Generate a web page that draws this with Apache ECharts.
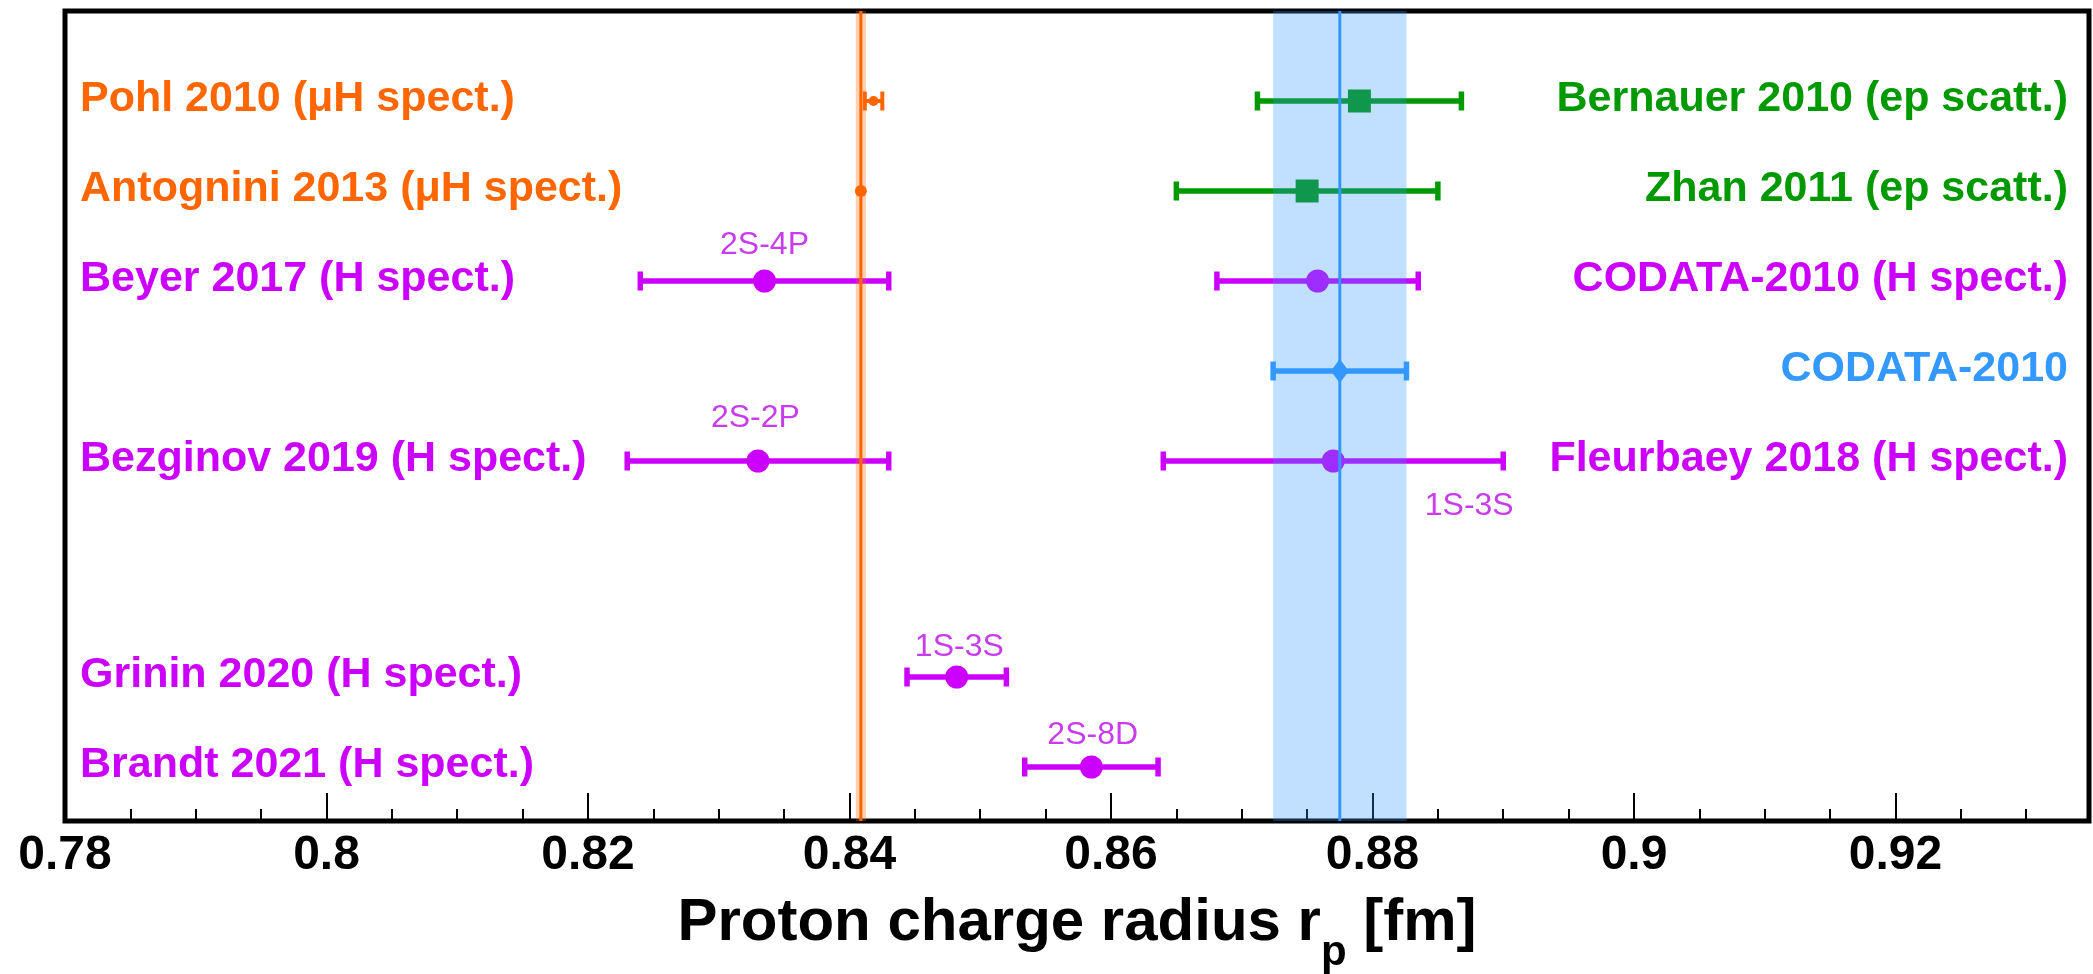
<!DOCTYPE html>
<html>
<head>
<meta charset="utf-8">
<script src="https://cdn.jsdelivr.net/npm/echarts@6/dist/echarts.min.js"></script>
<style>
html, body { margin: 0; padding: 0; background: #fff; }
#chart { width: 2093px; height: 974px; }
</style>
</head>
<body>
<div id="chart"></div>
<script>
// proton charge radius measurements [fm]
const labels = ['Pohl 2010 (μH spect.)', 'Antognini 2013 (μH spect.)', 'Beyer 2017 (H spect.)', 'Bezginov 2019 (H spect.)',
  'Grinin 2020 (H spect.)', 'Brandt 2021 (H spect.)', 'Bernauer 2010 (ep scatt.)', 'Zhan 2011 (ep scatt.)',
  'CODATA-2010 (H spect.)', 'CODATA-2010', 'Fleurbaey 2018 (H spect.)']
const radius = [0.84184, 0.84087, 0.8335, 0.8330, 0.8482, 0.8585, 0.8790, 0.8750, 0.8758, 0.8775, 0.8770]
const errors = [0.00067, 0.00039, 0.0095, 0.0100, 0.0038, 0.0051, 0.0078, 0.0100, 0.0077, 0.0051, 0.0130]
const rows = [1, 2, 3, 5, 7.4, 8.4, 1, 2, 3, 4, 5]
const sides = ['left', 'left', 'left', 'left', 'left', 'left', 'right', 'right', 'right', 'right', 'right']
const kinds = ['muH', 'muH', 'H', 'H', 'H', 'H', 'ep', 'ep', 'H', 'codata', 'H']

// transition notes
const noteText = ['2S-4P', '2S-2P', '1S-3S', '2S-8D', '1S-3S']
const noteX = [0.8335, 0.8328, 0.8484, 0.8586, 0.8874]
const noteRow = [2.6, 4.52, 7.07, 8.05, 5.5]

// reference values drawn as line + band
const refKinds = ['muH', 'codata']
const refValue = [0.84087, 0.8775]
const refError = [0.00039, 0.0051]

const font = '"Liberation Sans", Arial, Helvetica, sans-serif'
const colors = { muH: '#ff6600', H: '#cc00ff', ep: '#009900', codata: '#3399ff' }
const bandColors = { muH: 'rgba(255,102,0,0.3)', codata: 'rgba(51,153,255,0.3)' }

const chart = echarts.init(document.getElementById('chart'))

function markerSize(kind, i) {
  if (kind === 'muH') return i === 0 ? 5 : 6
  return 11.5
}

function marker(kind, i, x, y, color) {
  const r = markerSize(kind, i)
  if (kind === 'ep') {
    return { type: 'rect', shape: { x: x - r, y: y - r, width: 2 * r, height: 2 * r }, style: { fill: color } }
  }
  if (kind === 'codata') {
    return { type: 'polygon', shape: { points: [[x, y - 12], [x + 9, y], [x, y + 12], [x - 9, y]] }, style: { fill: color } }
  }
  return { type: 'circle', shape: { cx: x, cy: y, r: r }, style: { fill: color } }
}

function renderPoint(params, api) {
  const i = params.dataIndex
  const kind = kinds[i]
  const color = colors[kind]
  const c = api.coord([api.value(0), api.value(1)])
  const lo = api.coord([api.value(0) - api.value(2), api.value(1)])
  const hi = api.coord([api.value(0) + api.value(2), api.value(1)])
  const lw = kind === 'muH' ? 4 : 5.5
  const cap = 9.5
  const cs = params.coordSys
  const left = sides[i] === 'left'
  const children = []
  // error bar only if it sticks out of the marker
  if (hi[0] - lo[0] > 2 * markerSize(kind, i) + 2) {
    children.push(
      { type: 'line', shape: { x1: lo[0], y1: c[1], x2: hi[0], y2: c[1] }, style: { stroke: color, lineWidth: lw } },
      { type: 'line', shape: { x1: lo[0], y1: c[1] - cap, x2: lo[0], y2: c[1] + cap }, style: { stroke: color, lineWidth: lw } },
      { type: 'line', shape: { x1: hi[0], y1: c[1] - cap, x2: hi[0], y2: c[1] + cap }, style: { stroke: color, lineWidth: lw } }
    )
  }
  children.push(marker(kind, i, c[0], c[1], color))
  children.push({
    type: 'text',
    style: {
      text: labels[i],
      x: left ? cs.x + 15 : cs.x + cs.width - 21,
      y: c[1] - 2,
      fill: color,
      fontSize: 43,
      fontWeight: 'bold',
      fontFamily: font,
      align: left ? 'left' : 'right',
      verticalAlign: 'middle'
    }
  })
  return { type: 'group', children: children }
}

function renderRefLine(params, api) {
  const top = api.coord([api.value(0), 0])
  const bottom = api.coord([api.value(0), 9])
  return {
    type: 'line',
    shape: { x1: top[0], y1: top[1], x2: bottom[0], y2: bottom[1] },
    style: { stroke: colors[refKinds[params.dataIndex]], lineWidth: 3 }
  }
}

function renderBand(params, api) {
  const a = api.coord([api.value(0) - api.value(1), 0])
  const b = api.coord([api.value(0) + api.value(1), 9])
  return {
    type: 'rect',
    shape: { x: a[0], y: a[1], width: b[0] - a[0], height: b[1] - a[1] },
    style: { fill: bandColors[refKinds[params.dataIndex]] }
  }
}

function renderNote(params, api) {
  const p = api.coord([api.value(0), api.value(1)])
  return {
    type: 'text',
    style: {
      text: noteText[params.dataIndex],
      x: p[0], y: p[1],
      fill: '#c83ceb',
      fontSize: 32,
      fontFamily: font,
      align: 'center',
      verticalAlign: 'middle'
    }
  }
}

const refData = refValue.map((v, i) => [v, refError[i]])

chart.setOption({
  animation: false,
  backgroundColor: '#fff',
  grid: {
    left: 65, right: 4, top: 11, bottom: 153,
    show: true, borderColor: '#000', borderWidth: 5, backgroundColor: 'transparent',
    containLabel: false, outerBoundsMode: 'none'
  },
  xAxis: [{
    type: 'value',
    min: 0.78,
    max: 0.9348,
    interval: 0.02,
    axisLine: { show: false, onZero: false },
    axisTick: { inside: true, length: 28, lineStyle: { color: '#000', width: 2 } },
    axisLabel: { margin: 11, fontSize: 48, fontWeight: 'bold', color: '#000', fontFamily: font, showMaxLabel: false },
    splitLine: { show: false },
    name: '{m|Proton charge radius r}{s|p}{m| [fm]}',
    nameLocation: 'middle',
    nameGap: 52,
    nameMoveOverlap: false,
    nameTextStyle: {
      fontSize: 60, fontWeight: 'bold', color: '#000', fontFamily: font,
      rich: {
        m: { fontSize: 60, fontWeight: 'bold', color: '#000', fontFamily: font, lineHeight: 100 },
        s: { fontSize: 42, fontWeight: 'bold', color: '#000', fontFamily: font, lineHeight: 40, padding: [60, 0, 0, 0] }
      }
    }
  }, {
    // minor ticks every 0.005, moved down onto the bottom edge
    type: 'value',
    position: 'top',
    offset: -810,
    min: 0.78,
    max: 0.9348,
    interval: 0.005,
    axisLine: { show: false, onZero: false },
    axisTick: { inside: false, length: 12, lineStyle: { color: '#000', width: 2 } },
    axisLabel: { show: false },
    splitLine: { show: false }
  }],
  yAxis: { type: 'value', inverse: true, min: 0, max: 9, show: false },
  series: [{
    type: 'custom',
    name: 'measurements',
    z: 2,
    renderItem: renderPoint,
    data: radius.map((r, i) => [r, rows[i], errors[i]])
  }, {
    type: 'custom',
    name: 'reference lines',
    z: 3,
    renderItem: renderRefLine,
    data: refData
  }, {
    type: 'custom',
    name: 'reference bands',
    z: 4,
    renderItem: renderBand,
    data: refData
  }, {
    type: 'custom',
    name: 'notes',
    z: 5,
    renderItem: renderNote,
    data: noteX.map((x, i) => [x, noteRow[i]])
  }]
})
</script>
</body>
</html>
